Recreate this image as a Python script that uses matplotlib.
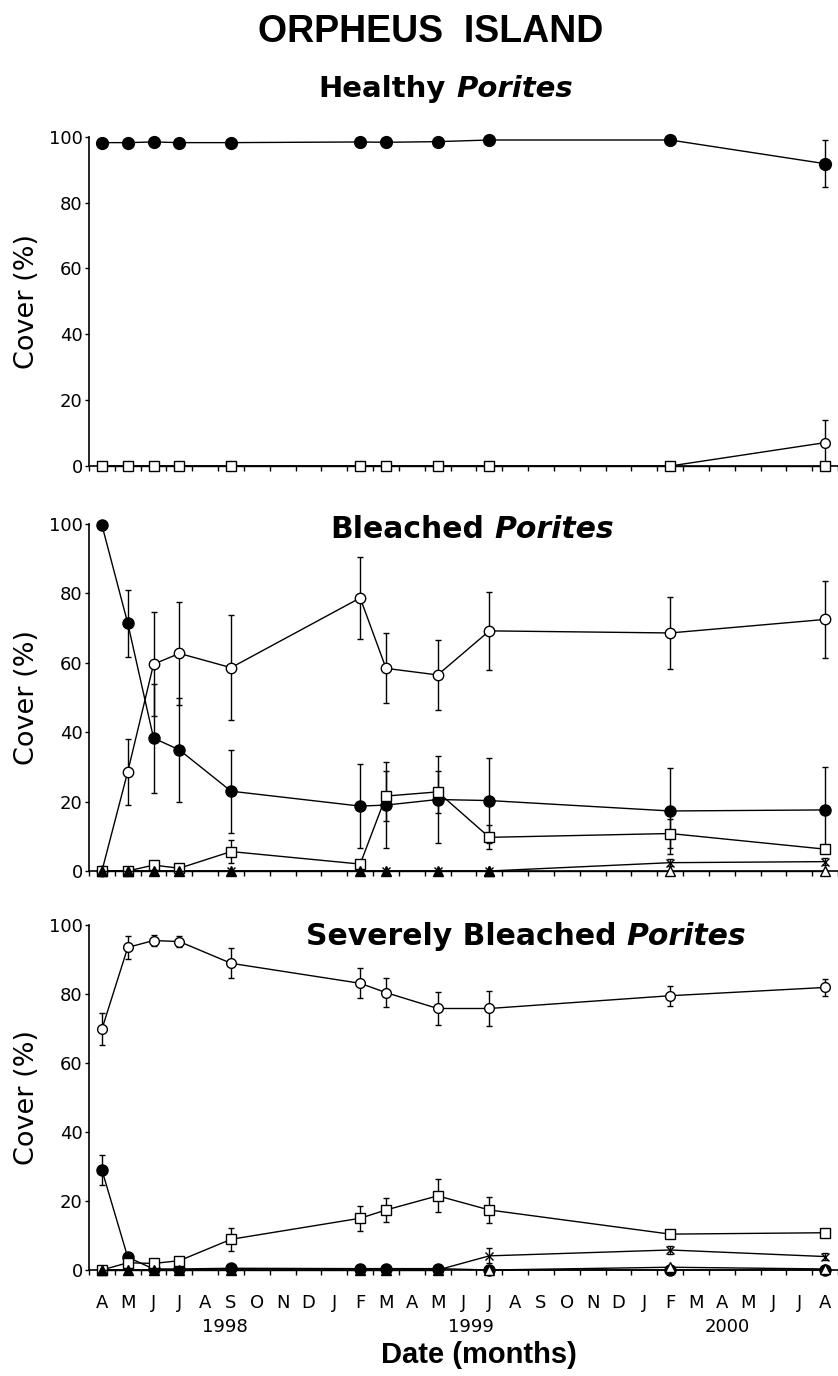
import numpy as np
import matplotlib
matplotlib.use('Agg')
import matplotlib.pyplot as plt
from matplotlib.transforms import blended_transform_factory

plt.rcParams['font.family'] = ['DejaVu Sans']

# sampling months, counted from April 1998
sample_month = [0, 1, 2, 3, 5, 10, 11, 13, 15, 22, 28]
month_labels = ['A', 'M', 'J', 'J', 'A', 'S', 'O', 'N', 'D', 'J', 'F', 'M', 'A', 'M',
                'J', 'J', 'A', 'S', 'O', 'N', 'D', 'J', 'F', 'M', 'A', 'M', 'J', 'J', 'A']
year_labels = ['1998', '1999', '2000']
year_pos = [4.77, 14.3, 24.2]

nan = np.nan

# Healthy Porites
h_fc = [98.2, 98.2, 98.4, 98.2, 98.2, 98.4, 98.3, 98.5, 99.0, 99.0, 91.8]
h_fc_err = [0, 0, 0, 0, 0, 0, 0, 0, 0, 0, 7.1]
h_oc = [0, 0, 0, 0, 0, 0, 0, 0, 0, 0, 7.1]
h_oc_err = [0, 0, 0, 0, 0, 0, 0, 0, 0, 0, 7.0]
h_sq = [0, 0, 0, 0, 0, 0, 0, 0, 0, 0, 0]

# Bleached Porites
b_fc = [99.7, 71.4, 38.3, 34.9, 23.0, 18.7, 19.0, 20.6, 20.3, 17.3, 17.6]
b_fc_err = [0, 9.6, 15.7, 15.0, 12.0, 12.0, 12.3, 12.4, 12.2, 12.3, 12.3]
b_oc = [0, 28.6, 59.6, 62.7, 58.6, 78.7, 58.4, 56.5, 69.2, 68.6, 72.5]
b_oc_err = [0, 9.5, 15.0, 14.9, 15.2, 11.7, 10.1, 10.1, 11.3, 10.4, 11.2]
b_sq = [0, 0, 1.7, 0.8, 5.6, 2.0, 21.6, 22.8, 9.7, 10.8, 6.3]
b_sq_err = [0, 0, 0.8, 0.5, 3.3, 1.0, 7.2, 6.0, 3.5, 4.2, 1.0]
b_x = [0, 0, 0, 0, 0, 0, 0, 0, 0, 2.4, 2.7]
b_x_err = [0, 0, 0, 0, 0, 0, 0, 0, 0, 1.0, 1.0]
b_tf = [0, 0, 0, 0, 0, 0, 0, 0, 0, nan, nan]
b_to = [nan, nan, nan, nan, nan, nan, nan, nan, 0, 0, 0]

# Severely bleached Porites
s_oc = [69.8, 93.5, 95.5, 95.2, 88.9, 83.1, 80.4, 75.8, 75.8, 79.5, 81.9]
s_oc_err = [4.6, 3.4, 1.5, 1.5, 4.3, 4.3, 4.2, 4.7, 5.0, 2.9, 2.5]
s_fc = [29.0, 3.7, 0.3, 0.3, 0.5, 0.4, 0.4, 0.4, 0, 0, 0]
s_fc_err = [4.3, 1.0, 0, 0, 0, 0, 0, 0, 0, 0, 0]
s_sq = [0, 2.1, 1.9, 2.7, 8.9, 15.0, 17.4, 21.5, 17.4, 10.4, 10.8]
s_sq_err = [0, 0.5, 0.5, 0.5, 3.3, 3.6, 3.5, 4.8, 3.8, 0.8, 0.8]
s_x = [0, 0, 0, 0, 0, 0, 0, 0, 4.1, 5.8, 3.9]
s_x_err = [0, 0, 0, 0, 0, 0, 0, 0, 2.2, 1.2, 0.9]
s_tf = [0, 0, 0, 0, 0, 0, 0, 0, nan, nan, nan]
s_to = [nan, nan, nan, nan, nan, nan, nan, nan, 0, 0.8, 0.3]

W, H = 838, 1376
fig = plt.figure(figsize=(W / 100, H / 100), dpi=100)


def px_axes(left, top, right, bottom):
    return fig.add_axes([left / W, 1 - bottom / H, (right - left) / W, (bottom - top) / H])


ax_top = px_axes(89, 136.7, 838, 466)
ax_mid = px_axes(89, 524, 838, 871)
ax_bot = px_axes(89, 925, 838, 1270)


def series(ax, y, err, marker, ms, filled, z):
    ax.errorbar(sample_month, y, yerr=err, fmt='-', marker=marker, color='black',
                mfc='black' if filled else 'white', mec='black', ms=ms, lw=1.0,
                elinewidth=1.0, capsize=2.5, capthick=1.0, clip_on=False, zorder=z)


def plain(ax, y, marker, ms, filled, z):
    ax.plot(sample_month, y, '-', marker=marker, color='black',
            mfc='black' if filled else 'white', mec='black', ms=ms, lw=1.0,
            clip_on=False, zorder=z)


# top panel
series(ax_top, h_fc, h_fc_err, 'o', 8.5, True, 3)
series(ax_top, h_oc, h_oc_err, 'o', 7, False, 4)
series(ax_top, h_sq, [0] * 11, 's', 7, False, 5)

# middle panel
plain(ax_mid, b_to, '^', 6.5, False, 3)
series(ax_mid, b_x, b_x_err, 'x', 6, True, 4)
series(ax_mid, b_fc, b_fc_err, 'o', 8, True, 5)
series(ax_mid, b_oc, b_oc_err, 'o', 7.5, False, 6)
series(ax_mid, b_sq, b_sq_err, 's', 7, False, 7)
plain(ax_mid, b_tf, '^', 6.5, True, 8)

# bottom panel
series(ax_bot, s_x, s_x_err, 'x', 6, True, 4)
series(ax_bot, s_fc, s_fc_err, 'o', 8, True, 5)
series(ax_bot, s_oc, s_oc_err, 'o', 7, False, 6)
series(ax_bot, s_sq, s_sq_err, 's', 7, False, 7)
plain(ax_bot, s_tf, '^', 6.5, True, 8)
plain(ax_bot, s_to, '^', 6.5, False, 9)

for ax in (ax_top, ax_mid, ax_bot):
    ax.set_xlim(-0.5, 28.5)
    ax.set_ylim(0, 100)
    ax.spines['top'].set_visible(False)
    ax.spines['right'].set_visible(False)
    ax.spines['left'].set_linewidth(1.2)
    ax.spines['bottom'].set_linewidth(1.2)
    ax.set_yticks([0, 20, 40, 60, 80, 100])
    ax.tick_params(axis='y', direction='out', length=3, width=1, pad=1.5, labelsize=13)
    ax.set_xticks(range(29))
    ax.set_xticks(np.arange(-0.5, 29, 1), minor=True)
    ax.tick_params(axis='x', which='major', length=0, labelsize=13, pad=17)
    ax.tick_params(axis='x', which='minor', direction='out', length=3.5, width=1)
    ax.set_xticklabels(month_labels)

for ax in (ax_top, ax_mid):
    ax.tick_params(axis='x', which='major', labelbottom=False)

for ax in (ax_top, ax_mid, ax_bot):
    pos = ax.get_position()
    fig.text(27 / W, (pos.y0 + pos.y1) / 2, 'Cover (%)', rotation=90, ha='center',
             va='center', fontsize=19.5)

trans = blended_transform_factory(ax_bot.transData, ax_bot.transAxes)
for lab, xp in zip(year_labels, year_pos):
    ax_bot.text(xp, -0.165, lab, transform=trans, ha='center', va='center', fontsize=13)

fig.text(479 / W, 1 - 1355 / H, 'Date (months)', ha='center', va='center',
         fontsize=21, fontweight='bold', family='Liberation Sans')
fig.text(431 / W, 1 - 41.7 / H, 'ORPHEUS  ISLAND', ha='center', va='baseline',
         fontsize=27, fontweight='bold', family='Liberation Sans')

renderer = fig.canvas.get_renderer()


def mixed_title(cx, base_y, normal, italic, size):
    t1 = fig.text(0, 0, normal, fontsize=size, fontweight='bold', va='baseline')
    t2 = fig.text(0, 0, italic, fontsize=size, fontweight='bold', style='italic',
                  va='baseline')
    w1 = t1.get_window_extent(renderer).width
    w2 = t2.get_window_extent(renderer).width
    gap = size * 0.35 * 100 / 72
    x0 = cx - (w1 + gap + w2) / 2
    t1.set_position((x0 / W, 1 - base_y / H))
    t2.set_position(((x0 + w1 + gap) / W, 1 - base_y / H))


mixed_title(446, 97, 'Healthy', 'Porites', 21)
mixed_title(472, 538, 'Bleached', 'Porites', 21.5)
mixed_title(526, 945, 'Severely Bleached', 'Porites', 21.5)

fig.savefig('out.png', dpi=100)
